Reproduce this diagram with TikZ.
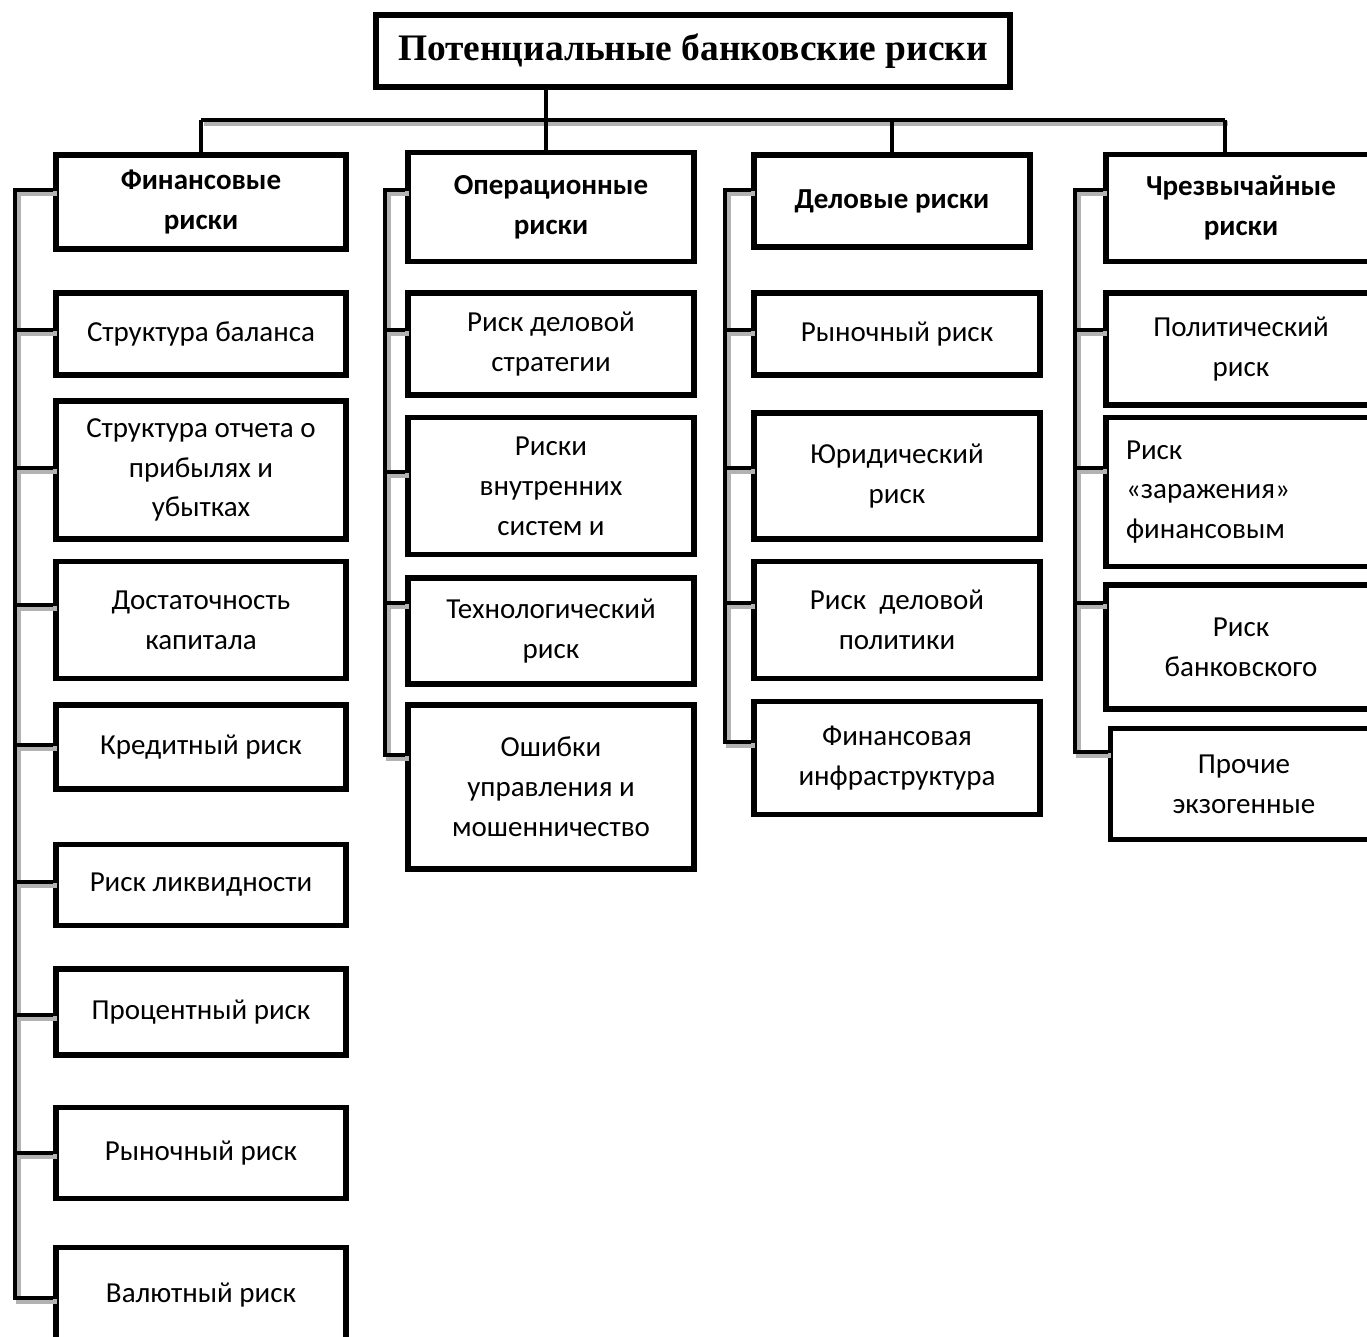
\documentclass[tikz,border=0pt]{standalone}
\usepackage{fontspec}
\setmainfont{Carlito}
\newfontfamily\titlefont{Liberation Serif}
\usetikzlibrary{calc}

\begin{document}
\begin{tikzpicture}[x=0.02cm, y=-0.02cm,
  box/.style={draw, line width=3.1pt, align=center, inner sep=2pt, font=\fontsize{16.5}{22.7}\selectfont},
  head/.style={box, font=\fontsize{16.5}{22.7}\selectfont\bfseries},
  c1/.style={minimum width=5.8cm},
  c2/.style={minimum width=5.72cm},
  c3/.style={minimum width=5.72cm},
  c4/.style={minimum width=5.4cm},
  link/.style={line width=2.8pt, preaction={draw=gray!60, line width=2.6pt, transform canvas={shift={(1.9pt,-1.9pt)}}}},
  drop/.style={line width=2.8pt}]
\useasboundingbox (0,0) rectangle (1367,1337);

\node[box, minimum width=12.68cm, minimum height=1.44cm, font=\titlefont\fontsize{21.3}{26}\selectfont\bfseries] (title) at (693,51) {Потенциальные банковские риски};

% financial
\node[head, c1, minimum height=1.88cm] (fin) at (201,202) {Финансовые\\риски};
\node[box, c1, minimum height=1.64cm] (fin1) at (201,334) {Структура баланса};
\node[box, c1, minimum height=2.76cm] (fin2) at (201,470) {Структура отчета о\\прибылях и\\убытках};
\node[box, c1, minimum height=2.34cm] (fin3) at (201,620) {Достаточность\\капитала};
\node[box, c1, minimum height=1.68cm] (fin4) at (201,747) {Кредитный риск};
\node[box, c1, minimum height=1.62cm] (fin5) at (201,885) {Риск ликвидности};
\node[box, c1, minimum height=1.72cm] (fin6) at (201,1012) {Процентный риск};
\node[box, c1, minimum height=1.82cm] (fin7) at (201,1153) {Рыночный риск};
\node[box, c1, minimum height=1.9cm] (fin8) at (201,1295) {Валютный риск};

% operational
\node[head, c2, minimum height=2.18cm] (op) at (551,207) {Операционные\\риски};
\node[box, c2, minimum height=2.04cm] (op1) at (551,344) {Риск деловой\\стратегии};
\node[box, c2, minimum height=2.74cm] (op2) at (551,486) {Риски\\внутренних\\систем и};
\node[box, c2, minimum height=2.12cm] (op3) at (551,631) {Технологический\\риск};
\node[box, c2, minimum height=3.28cm] (op4) at (551,787) {Ошибки\\управления и\\мошенничество};

% business
\node[head, minimum width=5.52cm, minimum height=1.84cm] (del) at (892,201) {Деловые риски};
\node[box, c3, minimum height=1.64cm] (del1) at (897,334) {Рыночный риск};
\node[box, c3, minimum height=2.52cm] (del2) at (897,476) {Юридический\\риск};
\node[box, c3, minimum height=2.34cm] (del3) at (897,620) {Риск~ деловой\\политики};
\node[box, c3, minimum height=2.26cm] (del4) at (897,758) {Финансовая\\инфраструктура};

% emergency
\node[head, c4, minimum height=2.14cm] (emg) at (1241,208) {Чрезвычайные\\риски};
\node[box, c4, minimum height=2.24cm] (emg1) at (1241,349) {Политический\\риск};
\node[box, c4, minimum height=2.98cm, text width=4.6cm, align=left] (emg2) at (1241,492) {Риск\\«заражения»\\финансовым};
\node[box, c4, minimum height=2.48cm] (emg3) at (1241,647) {Риск\\банковского};
\node[box, minimum width=5.34cm, minimum height=2.22cm] (emg4) at (1244,784) {Прочие\\экзогенные};

% bus
\coordinate (bus) at (546,120);
\coordinate (busR) at (1225,120);
\draw[drop] (title.south -| bus) -- (bus);
\draw[link] (fin.north |- bus) -- (busR);
\draw[drop] (fin.north |- bus) -- (fin.north);
\draw[drop] (bus) -- (bus |- op.north);
\draw[drop] (del.north |- bus) -- (del.north);
\draw[drop] (busR) -- (busR |- emg.north);

% trunks
\coordinate (t1) at (15,190);
\coordinate (t2) at (385,190);
\coordinate (t3) at (725,190);
\coordinate (t4) at (1075,190);
\draw[link] (t1 -| fin.west) -- (t1) |- (fin8.west |- 0,1298);
\draw[link] (t2 -| op.west) -- (t2) |- (op4.west |- 0,755);
\draw[link] (t3 -| del.west) -- (t3) |- (del4.west |- 0,742);
\draw[link] (t4 -| emg.west) -- (t4) |- (emg4.west |- 0,752);
\foreach \n/\y in {fin1/330, fin2/468, fin3/605, fin4/745, fin5/882, fin6/1015, fin7/1153}
  \draw[link] (\n.west |- 0,\y) -- (t1 |- 0,\y);
\foreach \n/\y in {op1/330, op2/472, op3/603}
  \draw[link] (\n.west |- 0,\y) -- (t2 |- 0,\y);
\foreach \n/\y in {del1/330, del2/468, del3/603}
  \draw[link] (\n.west |- 0,\y) -- (t3 |- 0,\y);
\foreach \n/\y in {emg1/330, emg2/468, emg3/603}
  \draw[link] (\n.west |- 0,\y) -- (t4 |- 0,\y);

\end{tikzpicture}
\end{document}
